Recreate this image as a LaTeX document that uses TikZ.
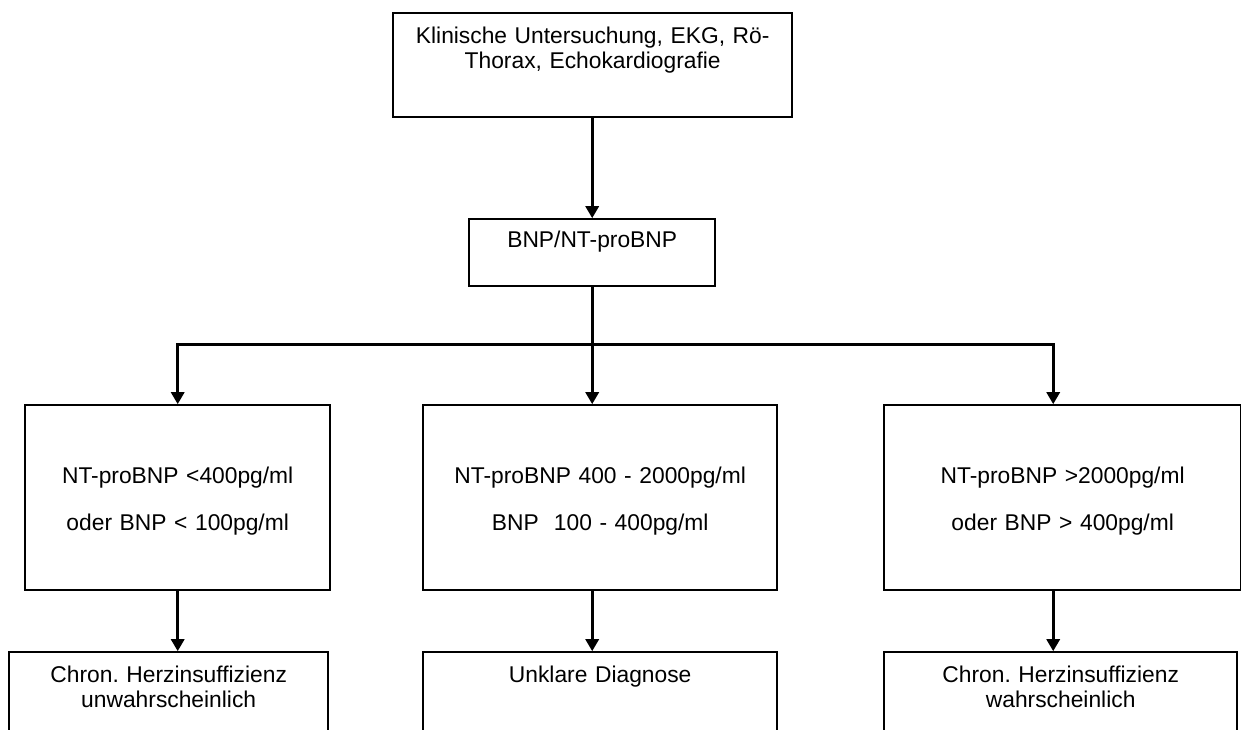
\documentclass[tikz,border=0pt]{standalone}
\usepackage{fontspec}
\setmainfont{Liberation Sans}
\usetikzlibrary{matrix,arrows.meta}

\newcommand{\kastenschrift}{\fontsize{22.8pt}{25.5pt}\selectfont\frenchspacing}

\begin{document}
\begin{tikzpicture}[
    kasten/.style={draw, line width=2pt, inner sep=0pt, align=center, font=\kastenschrift},
    wert/.style={kasten, text width=#1, text height=78pt, text depth=107pt},
    befund/.style={kasten, text width=#1, text height=30pt, text depth=100pt},
    linie/.style={line width=3.3pt},
    pfeil/.style={line width=3.3pt, -{Triangle[length=12pt,width=13pt]}}]

  \path[use as bounding box, clip] (0pt,0pt) rectangle (1241pt,-729pt);

  \matrix (m) [matrix of nodes, row sep=0pt, column sep=61pt, inner sep=0pt, anchor=north west] at (8pt,-12pt)
  {
     & |[kasten, text width=399pt, text height=30pt, text depth=74pt, xshift=-3.5pt]| {Klinische Untersuchung, EKG, Rö-\\Thorax, Echokardiografie} \\[100pt]
     & |[kasten, text width=246pt, text height=28pt, text depth=39pt, xshift=-4pt]| BNP/NT-proBNP \\[117pt]
     |[wert=305pt, xshift=4.5pt]| {NT-proBNP <400pg/ml\\[21.5pt]oder BNP < 100pg/ml}
       & |[wert=354pt, xshift=4pt]| {NT-proBNP 400 - 2000pg/ml\\[21.5pt]BNP\ \ 100 - 400pg/ml}
       &[29pt] |[wert=357pt, xshift=1pt]| {NT-proBNP >2000pg/ml\\[21.5pt]oder BNP > 400pg/ml} \\[60pt]
     |[befund=319pt, xshift=-4.5pt]| {Chron. Herzinsuffizienz\\unwahrscheinlich}
       & |[befund=354pt, xshift=4pt]| Unklare Diagnose
       &[29pt] |[befund=353pt, xshift=-1pt]| {Chron. Herzinsuffizienz\\wahrscheinlich} \\};

  \coordinate (gabel) at ([yshift=-57pt]m-2-2.south);
  \coordinate (rechts) at ([xshift=-9.5pt]m-3-3.north);

  \path
    (m-2-2.north |- m-1-2.south) edge [pfeil] (m-2-2)

    (m-2-2) edge [linie] (gabel)

    (gabel) edge [pfeil] (gabel |- m-3-2.north)

    (m-3-1.south) edge [pfeil] (m-3-1.south |- m-4-1.north)
    (gabel |- m-3-2.south) edge [pfeil] (gabel |- m-4-2.north)
    (rechts |- m-3-3.south) edge [pfeil] (rechts |- m-4-3.north);

  \draw[pfeil] (gabel) -| (m-3-1.north);
  \draw[pfeil] (gabel) -| (rechts);
\end{tikzpicture}
\end{document}
